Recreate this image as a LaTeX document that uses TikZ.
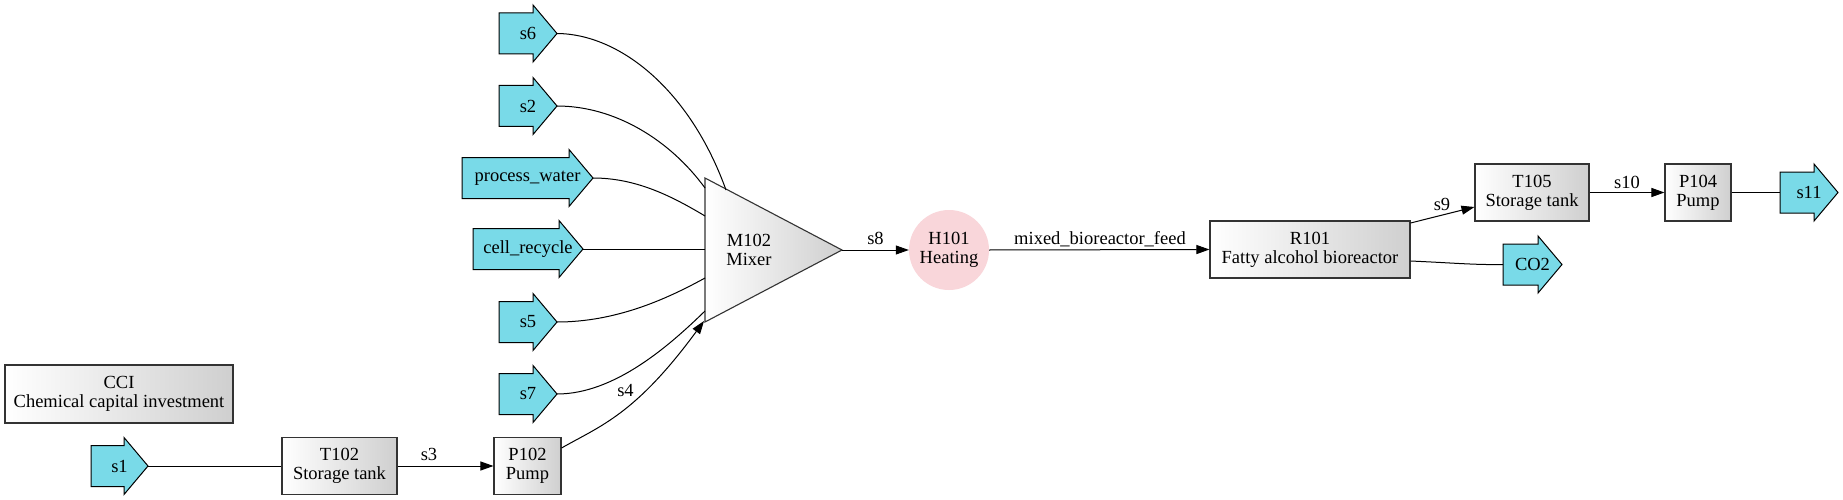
\documentclass[tikz,border=0pt]{standalone}
\usepackage{fontspec}
\setmainfont{Liberation Serif}
\newfontfamily\diagramfont{Liberation Serif}
\usetikzlibrary{arrows.meta,calc}
\definecolor{streamcyan}{HTML}{79DAE8}
\definecolor{heatpink}{HTML}{F9D6DA}
\definecolor{boxgray}{HTML}{CFCFCF}
\newdimen\saL \newdimen\saR \newdimen\saH \newdimen\saY \newdimen\saT \newdimen\saB
\makeatletter
\pgfdeclareshape{streamarrow}{%
  \inheritsavedanchors[from=rectangle]%
  \inheritanchorborder[from=rectangle]%
  \inheritanchor[from=rectangle]{center}%
  \inheritanchor[from=rectangle]{north}%
  \inheritanchor[from=rectangle]{south}%
  \inheritanchor[from=rectangle]{east}%
  \inheritanchor[from=rectangle]{west}%
  \inheritanchor[from=rectangle]{north east}%
  \inheritanchor[from=rectangle]{north west}%
  \inheritanchor[from=rectangle]{south east}%
  \inheritanchor[from=rectangle]{south west}%
  \inheritanchor[from=rectangle]{mid}%
  \inheritanchor[from=rectangle]{base}%
  \backgroundpath{%
    \southwest \saL=\pgf@x \saB=\pgf@y
    \northeast \saR=\pgf@x \saT=\pgf@y
    \saY=\saT \advance\saY by \saB \divide\saY by 2
    \saH=\saR \advance\saH by -24pt
    \pgfpathmoveto{\pgfqpoint{\saL}{\dimexpr\saB+8pt\relax}}%
    \pgfpathlineto{\pgfqpoint{\saL}{\dimexpr\saT-8pt\relax}}%
    \pgfpathlineto{\pgfqpoint{\saH}{\dimexpr\saT-8pt\relax}}%
    \pgfpathlineto{\pgfqpoint{\saH}{\saT}}%
    \pgfpathlineto{\pgfqpoint{\saR}{\saY}}%
    \pgfpathlineto{\pgfqpoint{\saH}{\saB}}%
    \pgfpathlineto{\pgfqpoint{\saH}{\dimexpr\saB+8pt\relax}}%
    \pgfpathclose
  }%
}
\makeatother
\tikzset{
  every node/.style={font=\diagramfont\fontsize{18.5}{19}\selectfont},
  unitbox/.style={draw=black!80, line width=1.1pt, left color=white, right color=boxgray,
    minimum height=57pt, inner sep=2pt, align=center},
  stream/.style={shape=streamarrow, draw=black, line width=1pt, fill=streamcyan,
    minimum height=57pt, inner sep=0pt, outer sep=0pt},
  flow/.style={draw, line width=1pt},
  arrowflow/.style={flow, -{Triangle[length=13pt,width=9pt]}},
  lbl/.style={anchor=base, inner sep=0pt},
}
\begin{document}
\begin{tikzpicture}[x=1pt,y=-1pt]
\useasboundingbox[fill=white] (0,0) rectangle (1843,500);
% feed streams
\node[stream, minimum width=58pt] (s6) at (528,33.5) {s6};
\node[stream, minimum width=58pt] (s2) at (528,106) {s2};
\node[stream, minimum width=131pt] (pw) at (527.5,178) {process\_water};
\node[stream, minimum width=110pt] (cr) at (528,249) {cell\_recycle};
\node[stream, minimum width=58pt] (s5) at (528,322) {s5};
\node[stream, minimum width=58pt] (s7) at (528,394) {s7};
\node[stream, minimum width=57pt] (s1) at (119.5,466) {s1};
% units
\node[unitbox, minimum width=228pt, minimum height=58pt] (CCI) at (119,394) {CCI\\Chemical capital investment};
\node[unitbox, minimum width=115pt] (T102) at (339.5,466) {T102\\Storage tank};
\node[unitbox, minimum width=67pt] (P102) at (527.5,466) {P102\\Pump};
% mixer
\coordinate (mA) at (705,178);
\coordinate (mB) at (842,250);
\coordinate (mC) at (705,322);
\path[draw=black!80, line width=1.1pt, left color=white, right color=boxgray] (mA) -- (mB) -- (mC) -- cycle;
\node[align=center] (M102) at (749,250) {M102\\Mixer};
\node[circle, fill=heatpink, minimum size=80pt, inner sep=0pt, align=center] (H101) at (949,250) {H101\\Heating};
\node[unitbox, minimum width=200pt] (R101) at (1310,249.5) {R101\\Fatty alcohol bioreactor};
\node[unitbox, minimum width=114pt] (T105) at (1532,192.5) {T105\\Storage tank};
\node[unitbox, minimum width=66pt] (P104) at (1698,192.5) {P104\\Pump};
\node[stream, minimum width=58pt] (s11) at (1809,192.5) {s11};
\node[stream, minimum width=59pt] (CO2) at (1532.5,264.5) {CO2};
% mixer inlet points
\coordinate (m6) at (726,190);
\coordinate (m2) at (705,188);
\coordinate (mpw) at (705,216);
\coordinate (mcr) at (705,249);
\coordinate (m5) at (705,278);
\coordinate (m7) at (705,311);
\coordinate (m4) at (704,321);
% connectors
\draw[flow] (s6.east) .. controls (620,34) and (690,90) .. (m6);
\draw[flow] (s2.east) .. controls (615,106) and (670,140) .. (m2);
\draw[flow] (pw.east) .. controls (635,178) and (670,195) .. (mpw);
\draw[flow] (cr.east) -- (mcr);
\draw[flow] (s5.east) .. controls (615,322) and (665,300) .. (m5);
\draw[flow] (s7.east) .. controls (615,394) and (670,345) .. (m7);
\draw[arrowflow] ($(P102.east)+(0,-18)$) .. controls (600,426) and (635,415) .. (m4)
  node[lbl, at={(625.5,396.7)}] {s4};
\draw[flow] (s1.east) -- (T102.west);
\draw[arrowflow] (T102.east) -- (P102.west) node[lbl, at={(429,460)}] {s3};
\draw[arrowflow] (mB) -- (H101.west) node[lbl, at={(875.5,244.3)}] {s8};
\draw[arrowflow] (H101.east) -- (R101.west) node[lbl, at={(1100,244.3)}] {mixed\_bioreactor\_feed};
\draw[arrowflow] ($(R101.east)+(0,-26.5)$) -- ($(T105.west)+(0,14.5)$) node[lbl, at={(1442,210)}] {s9};
\draw[flow] ($(R101.east)+(0,11.5)$) .. controls (1455,263) and (1475,265) .. (CO2.west);
\draw[arrowflow] (T105.east) -- (P104.west) node[lbl, at={(1627,188)}] {s10};
\draw[flow] (P104.east) -- (s11.west);
\end{tikzpicture}
\end{document}
